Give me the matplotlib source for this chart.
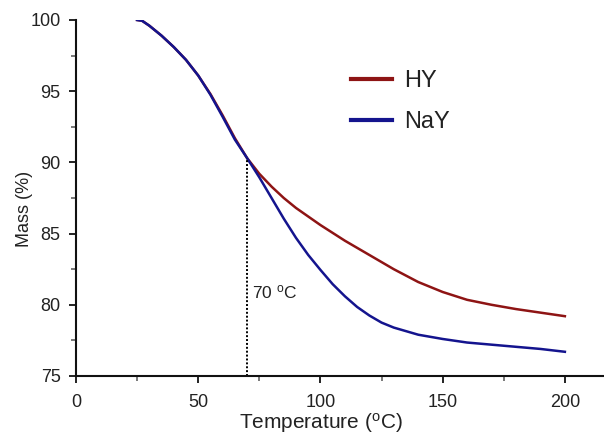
import numpy as np
import matplotlib
matplotlib.use("Agg")
import matplotlib.pyplot as plt
from matplotlib.ticker import MultipleLocator

plt.rcParams['font.family'] = ['Liberation Sans', 'DejaVu Sans']
plt.rcParams['mathtext.fontset'] = 'custom'
plt.rcParams['mathtext.rm'] = 'Liberation Sans'
plt.rcParams['mathtext.it'] = 'Liberation Sans'

# data
hy_temp = [25, 27, 30, 35, 40, 45, 50, 55, 60, 65, 70, 75, 80, 85, 90, 100, 110, 120, 130, 140, 150, 160, 170, 180, 190, 200]
hy_mass = [100, 99.95, 99.6, 98.9, 98.1, 97.2, 96.1, 94.8, 93.3, 91.7, 90.3, 89.2, 88.3, 87.5, 86.8, 85.6, 84.5,
           83.5, 82.5, 81.6, 80.9, 80.35, 80.0, 79.7, 79.45, 79.2]

nay_temp = [25, 27, 30, 35, 40, 45, 50, 55, 60, 65, 70, 75, 80, 85, 90, 95, 100, 105, 110, 115, 120, 125, 130,
            140, 150, 160, 170, 180, 190, 200]
nay_mass = [100, 99.95, 99.6, 98.9, 98.1, 97.2, 96.1, 94.75, 93.2, 91.6, 90.3, 88.95, 87.5, 86.05, 84.7, 83.5,
            82.45, 81.45, 80.6, 79.85, 79.25, 78.75, 78.4, 77.9, 77.6, 77.35, 77.2, 77.05, 76.9, 76.7]

mark_temp = 70
mark_mass = 90.3

red = '#8e1414'
blue = '#14148e'
txt = '#222222'

fig = plt.figure(figsize=(6.04, 4.34), dpi=100)
ax = fig.add_axes([76 / 604, 1 - 376 / 434, 1 - 76 / 604, (376 - 20) / 434])

ax.plot(hy_temp, hy_mass, color=red, lw=1.8, label='HY')
ax.plot(nay_temp, nay_mass, color=blue, lw=1.8, label='NaY')
ax.plot([mark_temp, mark_temp], [75, mark_mass], color='black', lw=1.4, ls=(0, (1, 1)))
ax.text(mark_temp + 1.8, 80.9, r'70 $^{\rm o}$C', fontsize=12.5, color=txt, va='center', ha='left')

ax.set_xlim(0, 216)
ax.set_ylim(75, 100)
ax.xaxis.set_major_locator(MultipleLocator(50))
ax.xaxis.set_minor_locator(MultipleLocator(25))
ax.yaxis.set_major_locator(MultipleLocator(5))
ax.yaxis.set_minor_locator(MultipleLocator(2.5))

for s in ['top', 'right']:
    ax.spines[s].set_visible(False)
for s in ['left', 'bottom']:
    ax.spines[s].set_linewidth(1.5)
    ax.spines[s].set_color('#111111')

ax.tick_params(which='major', direction='out', length=5, width=1.3, labelsize=13, colors='#111111', labelcolor=txt, pad=6)
ax.tick_params(axis='x', which='major', pad=8)
ax.tick_params(which='minor', direction='out', length=3.5, width=1.1, colors='#555555')

ax.set_xlabel(r'Temperature ($^{\rm o}$C)', fontsize=15, color=txt)
ax.xaxis.set_label_coords(100 / 216, -0.097)
ax.set_ylabel('Mass (%)', fontsize=13, color=txt)
ax.yaxis.set_label_coords(-0.082, 0.47)

leg = ax.legend(loc='upper left', bbox_to_anchor=(351 / 604, 1 - 70 / 434), bbox_transform=fig.transFigure,
                frameon=False, fontsize=17, handlelength=1.75, handletextpad=0.5, labelspacing=0.8,
                borderpad=0, borderaxespad=0)
for line in leg.get_lines():
    line.set_linewidth(3)
for t in leg.get_texts():
    t.set_color(txt)

fig.savefig('out.png', dpi=100)
